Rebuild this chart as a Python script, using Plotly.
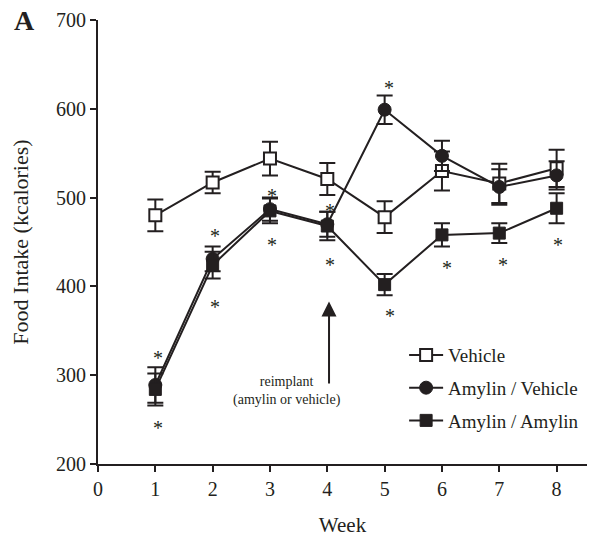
import plotly.graph_objects as go

weeks = [1, 2, 3, 4, 5, 6, 7, 8]

vehicle = [480, 517, 544, 521, 478, 530, 516, 533]
vehicle_err = [18, 12, 19, 18, 18, 22, 22, 21]

amy_veh = [289, 431, 487, 470, 599, 547, 512, 525]
amy_veh_err = [20, 14, 13, 14, 16, 17, 20, 16]

amy_amy = [284, 424, 485, 468, 402, 458, 460, 488]
amy_amy_err = [18, 15, 14, 16, 12, 13, 11, 17]

star_x = [1.04, 1.04, 2.04, 2.04, 3.04, 3.04, 4.04, 4.04, 5.07, 5.1, 6.08, 7.06, 8.02]
star_y = [325, 246, 462, 382, 507, 452, 490, 430, 629, 372, 426, 430, 452]

SERIF = "Liberation Serif, Times New Roman, Times, serif"
INK = "#231f20"

fig = go.Figure()

fig.add_trace(go.Scatter(
    x=weeks, y=vehicle, name="Vehicle", mode="lines+markers", legendgroup="a",
    line=dict(color=INK, width=2),
    marker=dict(symbol="square", size=12, color="white", line=dict(color=INK, width=2)),
    error_y=dict(type="data", array=vehicle_err, color=INK, thickness=2, width=8),
))
fig.add_trace(go.Scatter(
    x=weeks, y=amy_veh, name="Amylin / Vehicle", mode="lines+markers", legendgroup="b",
    line=dict(color=INK, width=2),
    marker=dict(symbol="circle", size=13, color=INK, line=dict(color=INK, width=1)),
    error_y=dict(type="data", array=amy_veh_err, color=INK, thickness=2, width=8),
))
fig.add_trace(go.Scatter(
    x=weeks, y=amy_amy, name="Amylin / Amylin", mode="lines+markers", legendgroup="c",
    line=dict(color=INK, width=2),
    marker=dict(symbol="square", size=12, color=INK, line=dict(color=INK, width=1)),
    error_y=dict(type="data", array=amy_amy_err, color=INK, thickness=2, width=8),
))

annotations = []
for sx, sy in zip(star_x, star_y):
    annotations.append(dict(x=sx, y=sy, xref="x", yref="y", text="*", showarrow=False,
                            font=dict(family=SERIF, size=20, color=INK), yshift=-5))

# reimplant arrow
annotations.append(dict(x=4.03, y=383, xref="x", yref="y", ax=4.03, ay=289,
                        axref="x", ayref="y", text="", showarrow=True,
                        arrowhead=2, arrowsize=1.5, arrowwidth=2, arrowcolor=INK))
annotations.append(dict(x=3.3, y=282, xref="x", yref="y",
                        text="reimplant<br>(amylin or vehicle)", showarrow=False,
                        font=dict(family=SERIF, size=14, color=INK), align="center"))
annotations.append(dict(x=-0.176, y=1.0, xref="paper", yref="paper", text="<b>A</b>",
                        showarrow=False, font=dict(family=SERIF, size=28, color=INK),
                        xanchor="left", yanchor="middle"))

fig.update_layout(
    width=591, height=540,
    margin=dict(l=98, r=4, t=20, b=76),
    paper_bgcolor="white", plot_bgcolor="white",
    font=dict(family=SERIF, size=20, color=INK),
    showlegend=True,
    legend=dict(x=0.626, y=0.288, xanchor="left", yanchor="top",
                bgcolor="rgba(0,0,0,0)", font=dict(family=SERIF, size=19, color=INK),
                itemwidth=34, tracegroupgap=5),
    annotations=annotations,
    xaxis=dict(range=[0, 8.53], tickmode="array", tickvals=list(range(0, 9)),
               showgrid=False, zeroline=False, showline=True, linecolor=INK, linewidth=2,
               ticks="outside", ticklen=6, tickwidth=2, tickcolor=INK, automargin=False,
               title=dict(text="Week", font=dict(family=SERIF, size=21), standoff=18)),
    yaxis=dict(range=[200, 700], tickmode="array", tickvals=[200, 300, 400, 500, 600, 700],
               showgrid=False, zeroline=False, showline=True, linecolor=INK, linewidth=2,
               ticks="outside", ticklen=6, tickwidth=2, tickcolor=INK, automargin=False,
               title=dict(text="Food Intake (kcalories)", font=dict(family=SERIF, size=22), standoff=21)),
)

fig.write_html("out.html", config={"displayModeBar": False},
               post_script="document.body.style.margin='0';document.body.style.overflow='hidden';")
